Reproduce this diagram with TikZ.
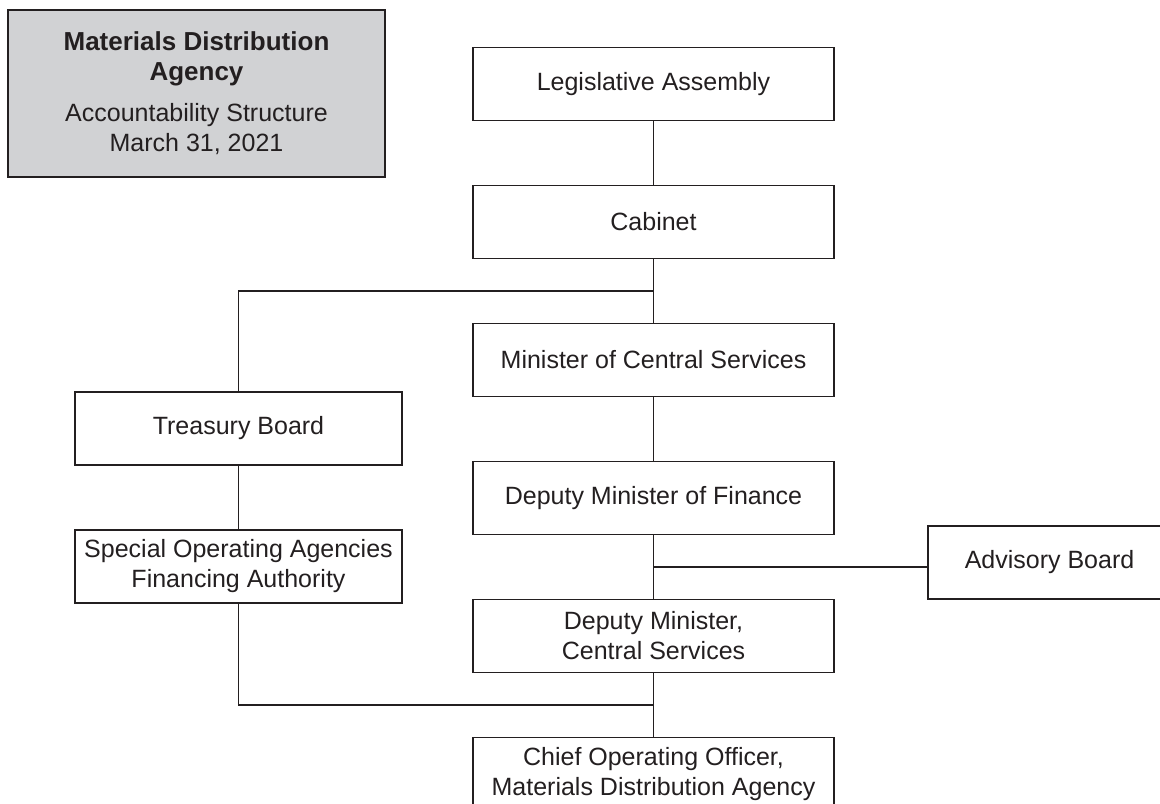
\documentclass[tikz,border=0pt]{standalone}
\usepackage{fontspec}
\setmainfont{Liberation Sans}
\usetikzlibrary{calc}

\definecolor{titlegray}{RGB}{209,210,212}
\definecolor{inkgray}{RGB}{35,31,32}

\tikzstyle{office}=[draw=inkgray, line width=0.7pt, text=inkgray, text centered, align=center,
  minimum width=180.5pt, minimum height=36.5pt, inner sep=2pt, font=\fontsize{12.5}{15}\selectfont]
\tikzstyle{board}=[office, minimum width=163.5pt]
\tikzstyle{banner}=[office, fill=titlegray, minimum width=188.5pt, minimum height=83.5pt]
\tikzstyle{link}=[draw=inkgray, line width=0.7pt]

\begin{document}
\begin{tikzpicture}[x=0.5pt, y=-0.5pt, node distance=69pt]
          \useasboundingbox (0,0) rectangle (1160,803);
          \clip (0,0) rectangle (1160,803);

          \node (banner) [banner] at (196.5, 93.5)
            {\textbf{\fontsize{13}{15.5}\selectfont Materials Distribution}\\
             \textbf{\fontsize{13}{15.5}\selectfont Agency}\\[5.5pt]
             Accountability Structure\\ March 31, 2021};

          \node (legis) [office] at (653.5, 84) {Legislative Assembly};
          \node (cabinet) [office, below of=legis] {Cabinet};
          \node (minister) [office, below of=cabinet] {Minister of Central Services};
          \node (dmfin) [office, below of=minister] {Deputy Minister of Finance};
          \node (dmcs) [office, below of=dmfin] {Deputy Minister,\\ Central Services};
          \node (coo) [office, below of=dmcs] {Chief Operating Officer,\\ Materials Distribution Agency};

          \node (treasury) [board] at (238.5, 428.5) {Treasury Board};
          \node (soafa) [board, below of=treasury] {Special Operating Agencies\\ Financing Authority};
          \node (advisory) [office, minimum width=121.5pt] at (1049.5, 562.5) {Advisory Board};

          \coordinate (jcab) at ($(cabinet.south)!0.5!(minister.north)$);
          \coordinate (jadv) at ($(dmfin.south)!0.5!(dmcs.north)$);
          \coordinate (jcoo) at ($(dmcs.south)!0.5!(coo.north)$);

          \draw [link] (legis) -- (cabinet);
          \draw [link] (cabinet) -- (minister);
          \draw [link] (treasury.north) |- (jcab);
          \draw [link] (treasury) -- (soafa);
          \draw [link] (minister) -- (dmfin);
          \draw [link] (dmfin) -- (dmcs);
          \draw [link] (jadv) -- (jadv -| advisory.west);
          \draw [link] (dmcs) -- (coo);
          \draw [link] (soafa.south) |- (jcoo);
    \end{tikzpicture}
\end{document}
